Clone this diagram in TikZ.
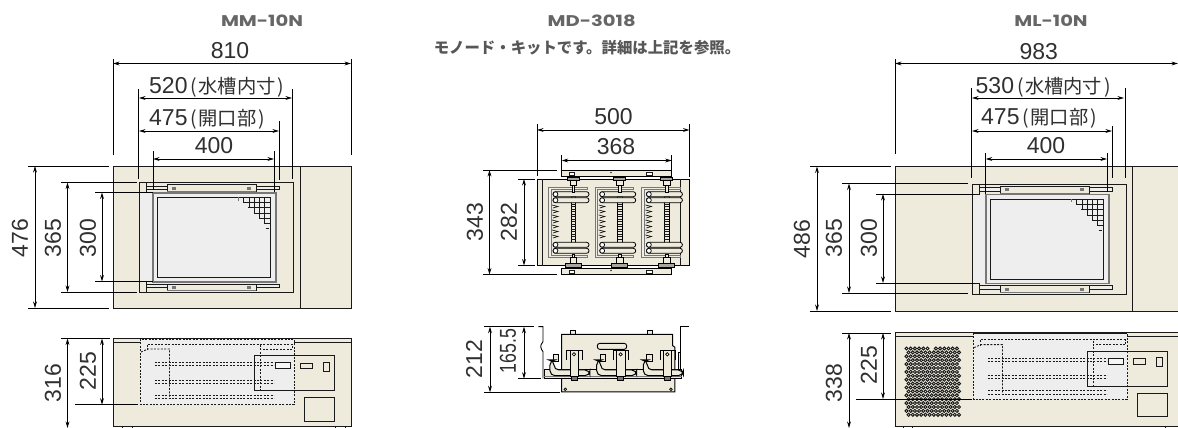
\documentclass[tikz,border=0pt]{standalone}
\usepackage{fontspec}
\setmainfont{Liberation Sans}
\newfontfamily\cjkf{Noto Sans CJK JP}
\newfontfamily\titlef{Poppins}
\usetikzlibrary{arrows.meta}
\definecolor{cream}{HTML}{EEEBDD}
\definecolor{tank}{HTML}{EEEEEE}
\definecolor{ink}{HTML}{303030}
\definecolor{gline}{HTML}{777777}
\definecolor{ttl}{HTML}{666666}
\tikzset{
  dimline/.style={line width=0.8pt,black,{Stealth[length=6.5pt,width=3.8pt]}-{Stealth[length=6.5pt,width=3.8pt]}},
  extline/.style={line width=0.8pt,black},
  num/.style={font=\fontsize{23}{23}\selectfont,text=ink,inner sep=0pt},
  vnum/.style={num,rotate=90},
  title/.style={font=\titlef\bfseries\fontsize{15.5}{16}\selectfont,text=ttl,inner sep=0pt},
  body/.style={fill=cream,draw=black!90,line width=0.9pt},
  thinl/.style={line width=0.8pt,black!90},
  dashl/.style={line width=0.85pt,black!90,dash pattern=on 2pt off 1.4pt},
}
\newcommand\lbl[1]{\hspace{3pt}{\fontsize{19.3}{19}\selectfont\cjkf(\hspace{1.5pt}#1\hspace{2pt})}}
\newcommand\ttxt[1]{\scalebox{1.26}[1]{#1}}
% plan view detail, MM coordinates
\newcommand\planview{%
  \fill[tank] (139,192.7) rectangle (153,282);
  \draw[line width=0.9pt,black!90] (139,182.7) rectangle (293,292.3);
  \fill[tank] (152.7,192.7) rectangle (275.7,281.7);
  \draw[gline,line width=1.6pt] (152.7,192.7) rectangle (275.7,281.7);
  \draw[black!90,line width=1pt] (157.3,197.3) rectangle (270.7,277.3);
  \begin{scope}[shift={(130,170)},x=0.3333pt,y=-0.3333pt]
    \foreach \a in {340,358,373,388,403}{\draw[thinl] (\a,82) -- (\a,{\a-243});}
    \foreach \a in {97,112,130,145,160}{\draw[thinl] ({\a+243},\a) -- (422,\a);}
    \draw[gline,line width=1pt] (325,82) -- (325,92);
    \draw[thinl] (408,175) -- (418,175);
  \end{scope}
  \foreach \yo/\boxa/\boxb in {0/184.7/191.3,98/284/290.7}{
    \begin{scope}[yshift=-\yo pt]
      \draw[thinl,fill=tank] (146.7,186) rectangle (279.3,189.3);
    \end{scope}
    \fill[cream] (167,\boxa) rectangle (256,\boxb);
    \draw[thinl] (167,\boxa) rectangle (256,\boxb);
    \draw[gline,line width=1pt] (167,\boxb) -- (256,\boxb);
    \fill[gline] (172,{\boxa+2}) rectangle (176,{\boxa+5});
    \fill[gline] (247,{\boxa+2}) rectangle (251,{\boxa+5});
  }
  \draw[thinl,fill=cream] (139,182.7) rectangle (146.7,192.7);
  \draw[thinl,fill=cream] (139,281.7) rectangle (146.7,292.3);
}
% side view interior, MM coordinates
\newcommand\sideinner{%
  \draw[dashl] (147,350) -- (147,344) -- (292,344) -- (292,349);
  \draw[dashl] (141,352) -- (148,349) -- (169.5,349) -- (169.5,397);
  \draw[dashl] (292,349) -- (259.5,349);
  \draw[dashl] (260,345) -- (260,392);
  \foreach \a in {362.7,365.7,380,383,395,398.5}{\draw[dashl] (155,\a) -- (274,\a);}
  \draw[line width=0.9pt,black!90] (254.7,355.7) rectangle (334,390.7);
  \draw[line width=0.9pt,black!90,fill=tank!50!white] (275,362.7) rectangle (290,368.7);
  \draw[line width=0.9pt,black!90,fill=cream] (300.5,363) rectangle (312,368.7);
  \draw[line width=0.9pt,black!90,fill=cream] (323,362) rectangle (329.3,371);
  \draw[line width=0.9pt,black!90] (304.5,397.7) rectangle (334,421.3);
}
% one MD-3018 unit, plan view
\newcommand\mdunit{%
  \draw[gline,line width=1pt,fill=tank!60!cream] (548.3,257.7) -- (548.3,187.3) -- (587,187.3) -- (587,189.5) -- (551,189.5) -- (551,255.5) -- (587,255.5) -- (587,257.7) -- cycle;
  \foreach \a in {205,210,...,236}{\draw[black!90,line width=0.7pt] (552,\a) -- (558,{\a+1.5}) -- (553,{\a+3});}
  \draw[black,line width=0.7pt,fill=cream] (571,196) rectangle (575.5,243);
  \foreach \a in {204,206.5,...,241}{\draw[black!90,line width=0.8pt] (571,\a) -- (575.5,\a);}
  \foreach \a in {191.7,197.7,242.3,248.3}{
    \draw[black,line width=0.8pt,fill=cream,rounded corners=2.4pt] (553,\a) rectangle (589,{\a+5});
    \draw[black,line width=0.7pt,fill=white] (555.5,{\a+2.5}) circle (2.4pt);
  }
  \draw[black,line width=0.7pt,fill=cream] (572,176) rectangle (574.5,192);
  \draw[black,line width=0.9pt,fill=gline!60!cream] (567,177.5) rectangle (579,180);
  \draw[black,line width=0.8pt,fill=cream] (570,180) rectangle (576.5,185);
  \draw[black,line width=0.7pt,fill=cream] (572,254) rectangle (574.5,266);
  \draw[black,line width=0.8pt,fill=cream] (570,257.5) rectangle (576.5,263);
  \draw[black,line width=0.9pt,fill=gline!60!cream] (565,263) rectangle (581,267.5);
}
% one MD-3018 clamp, side view (zoom units)
\newcommand\mdclamp{%
  \draw[black,line width=0.9pt,fill=cream] (310,132) rectangle (326,155);
  \draw[black,line width=1pt,fill=cream,rounded corners=5pt] (300,150) -- (300,197) -- (420,197) -- (420,180) -- (312,180) -- (312,150) -- cycle;
  \draw[black,line width=0.8pt] (350,150) -- (350,120) -- (396,120) -- (396,150);
  \draw[black,line width=0.8pt,fill=cream] (360,122) rectangle (385,200);
  \draw[black,line width=0.8pt,fill=gline] (363,200) rectangle (381,210);
  \draw[black,line width=0.7pt,fill=white] (372,133) circle (5);
}
\begin{document}
\begin{tikzpicture}[x=1pt,y=-1pt]
\useasboundingbox (0,0) rectangle (1178,428);
\fill[white] (0,0) rectangle (1178,428);
% ---------- MM-10N
\node[title] (t1) at (262,21) {\ttxt{MM-10N}};
\draw[body] (113,166) rectangle (351,308);
\draw[line width=0.8pt,black!90] (300.5,166) -- (300.5,308);
\planview
\draw[extline] (113,59) -- (113,155);
\draw[extline] (351,59) -- (351,155);
\draw[dimline] (113,63.5) -- (351,63.5);
\node[num] (n810) at (230,51) {810};
\draw[extline] (138.5,89) -- (138.5,179);
\draw[extline] (292.7,89) -- (292.7,179);
\draw[dimline] (139,98) -- (292,98);
\node[num,anchor=west] (n520) at (149,87) {520\lbl{水槽内寸}};
\draw[extline] (279.3,121) -- (279.3,180);
\draw[dimline] (139,131) -- (279,131);
\node[num,anchor=west] (n475) at (149,119) {475\lbl{開口部}};
\draw[extline] (153,151) -- (153,190);
\draw[extline] (274,151) -- (274,192);
\draw[dimline] (153,159) -- (274,159);
\node[num] (n400) at (214,146) {400};
\draw[extline] (28,166) -- (109,166);
\draw[extline] (28,308) -- (109,308);
\draw[dimline] (35,166) -- (35,308);
\node[vnum] (n476) at (20,238) {476};
\draw[extline] (61,182.5) -- (137,182.5);
\draw[extline] (61,292) -- (137,292);
\draw[dimline] (67.5,182.5) -- (67.5,292);
\node[vnum] (n365) at (53,238) {365};
\draw[extline] (95,192.5) -- (153,192.5);
\draw[extline] (95,281.5) -- (153,281.5);
\draw[dimline] (102,192.5) -- (102,281.5);
\node[vnum] (n300) at (88,238) {300};
% MM side
\draw[body] (113,338.5) rectangle (351,426.7);
\fill[white] (140.5,338.5) rectangle (294,342.5);
\draw[line width=1pt,black!90] (113,338.5) -- (140.5,338.5) (294,338.5) -- (351,338.5);
\draw[line width=0.8pt,black!90] (113,342.5) -- (351,342.5);
\draw[dashl,fill=tank] (140.5,339) rectangle (294,404.7);
\sideinner
\foreach \a in {122,132,335,345}{\draw[thinl] (\a,426.7) -- (\a,428);}
\draw[extline] (61,338.5) -- (110,338.5);
\draw[dimline] (67.5,338.5) -- (67.5,428);
\node[vnum] (n316) at (53,383) {316};
\draw[extline] (75,404.7) -- (138,404.7);
\draw[dimline] (102,338.5) -- (102,404.7);
\node[vnum] (n225) at (88,371) {225};
% ---------- MD-3018
\node[title] (t2) at (591.7,21) {\ttxt{MD-3018}};
\node[inner sep=0pt,text=ttl!85!black,font=\cjkf\bfseries\fontsize{15.4}{16}\selectfont] (sub) at (587,48) {モノード・キットです。詳細は上記を参照。};
\draw[extline] (537,124) -- (537,176);
\draw[extline] (689.5,124) -- (689.5,177);
\draw[dimline] (537,130) -- (689.5,130);
\node[num] (n500) at (613.5,117) {500};
\draw[extline] (561.7,155) -- (561.7,170);
\draw[extline] (671.7,155) -- (671.7,170);
\draw[dimline] (561.7,160.5) -- (671.7,160.5);
\node[num] (n368) at (616,147) {368};
\draw[extline] (483,170) -- (557,170);
\draw[extline] (483,274.5) -- (557,274.5);
\draw[dimline] (489.5,170) -- (489.5,274.5);
\node[vnum] (n343) at (475,222) {343};
\draw[extline] (518,179) -- (535,179);
\draw[extline] (518,265.5) -- (535,265.5);
\draw[dimline] (524,179) -- (524,265.5);
\node[vnum] (n282) at (509,222) {282};
\draw[body,draw=black] (537,179) rectangle (689.5,265.5);
\draw[thinl] (542.3,179) -- (542.3,265.5) (680,179) -- (680,265.5);
\foreach \dx in {0,46.7,93.4}{\begin{scope}[xshift=\dx pt]\mdunit\end{scope}}
\foreach \ya in {170,268}{
  \draw[line width=0.8pt,black,fill=cream] (561.7,\ya) rectangle (671.7,{\ya+6.8});
  \draw[thinl,fill=white] (569.3,{\ya+2}) rectangle (574.7,{\ya+5});
  \draw[thinl,fill=white] (646.7,{\ya+2}) rectangle (652,{\ya+5});
  \fill[ink] (611,{\ya+2.5}) circle (0.9pt);
}
% MD side
\draw[extline] (484,326.7) -- (534,326.7);
\draw[extline] (484,392.3) -- (560,392.3);
\draw[dimline] (490,326.7) -- (490,392.3);
\node[vnum] (n212) at (474,359) {212};
\draw[extline] (518,378.7) -- (541,378.7);
\draw[dimline] (524,326.7) -- (524,378.7);
\node[vnum] (n165) at (508,351) {\scalebox{0.77}[1]{165.5}};
\begin{scope}[shift={(450,310)},x=0.3333pt,y=-0.3333pt]
  \draw[black,line width=0.8pt,fill=cream] (360,73) rectangle (376,62);
  \draw[black,line width=0.8pt,fill=cream] (592,73) rectangle (608,62);
  \draw[black,line width=0.9pt] (265,50) -- (279,50) -- (279,95) .. controls (268,108) and (272,115) .. (279,125) -- (279,205);
  \draw[black,line width=0.9pt] (718,50) -- (692,50) -- (692,127);
  \draw[black,line width=1pt,fill=cream] (335,246) -- (335,73) -- (668,73) -- (668,107) -- (675,112) -- (675,246) -- cycle;
  \draw[black,line width=0.9pt,fill=cream,rounded corners=2.5pt] (442,100) rectangle (530,118);
  \draw[black,line width=0.8pt,fill=cream] (282,178) rectangle (695,205);
  \draw[gline,line width=0.8pt] (282,200) -- (695,200);
  \foreach \dx in {0,140,280}{\begin{scope}[xshift=\dx*0.3333pt]\mdclamp\end{scope}}
  \draw[black,line width=0.8pt,fill=cream] (684,127) rectangle (692,178);
  \draw[black,line width=0.7pt] (346,238) circle (4);
  \draw[black,line width=0.7pt] (663,238) circle (4);
\end{scope}
% ---------- ML-10N
\node[title] (t3) at (1051,21) {\ttxt{ML-10N}};
\draw[body] (895,166.5) rectangle (1185,311);
\draw[line width=0.8pt,black!90] (1132.7,166.5) -- (1132.7,311);
\begin{scope}[shift={(833,1.7)}]\planview\end{scope}
\draw[extline] (895,59) -- (895,154);
\draw[dimline] (895,63.5) -- (1178,63.5);
\node[num] (n983) at (1038.7,52) {983};
\draw[extline] (971.7,88) -- (971.7,178);
\draw[extline] (1125.7,88) -- (1125.7,178);
\draw[dimline] (972,98) -- (1124,98);
\node[num,anchor=west] (n530) at (975.5,87) {530\lbl{水槽内寸}};
\draw[extline] (1112,126) -- (1112,178);
\draw[dimline] (972,131) -- (1112,131);
\node[num,anchor=west] (n475b) at (981,118) {475\lbl{開口部}};
\draw[extline] (985.7,153) -- (985.7,194);
\draw[extline] (1107,153) -- (1107,192);
\draw[dimline] (985.7,159) -- (1107,159);
\node[num] (n400b) at (1046,146) {400};
\draw[extline] (810,166.5) -- (891,166.5);
\draw[extline] (810,311) -- (891,311);
\draw[dimline] (817,166.5) -- (817,311);
\node[vnum] (n486) at (802,239) {486};
\draw[extline] (842,183.5) -- (968,183.5);
\draw[extline] (842,293) -- (968,293);
\draw[dimline] (849,183.5) -- (849,293);
\node[vnum] (n365b) at (834,238) {365};
\draw[extline] (876,194) -- (975,194);
\draw[extline] (876,283) -- (975,283);
\draw[dimline] (883,194) -- (883,283);
\node[vnum] (n300b) at (869,238) {300};
% ML side
\draw[body] (895,332.7) rectangle (1185,426.7);
\draw[line width=0.8pt,black!90] (895,336.7) -- (1178,336.7);
\draw[dashl,fill=tank] (973.5,333) rectangle (1127,399);
\draw[thinl] (973.5,333) -- (1127,333);
\begin{scope}[shift={(833,-4.4)}]\sideinner\end{scope}
\foreach \r in {0,...,17}{
  \pgfmathsetmacro\off{mod(\r,2)*2.1}
  \foreach \c in {0,...,12}{
    \pgfmathsetmacro\px{906.5+\c*4.2+\off}
    \pgfmathsetmacro\py{348.5+\r*3.9}
    \ifnum\r=0 \ifnum\c=6 \else \draw[black!90,line width=0.95pt] (\px,\py) circle (1.55pt); \fi
    \else \draw[black!90,line width=0.95pt] (\px,\py) circle (1.55pt); \fi
  }
}
\foreach \a in {903,912,1165}{\draw[thinl] (\a,426.7) -- (\a,428);}
\draw[extline] (842,333) -- (891,333);
\draw[dimline] (849,333) -- (849,428);
\node[vnum] (n338) at (834,383) {338};
\draw[extline] (856,399) -- (972,399);
\draw[dimline] (883,333) -- (883,399);
\node[vnum] (n225b) at (869,365) {225};
\end{tikzpicture}
\end{document}
